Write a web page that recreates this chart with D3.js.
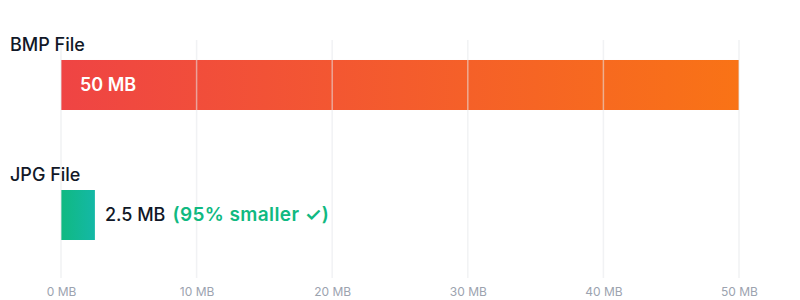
<!DOCTYPE html>
<html><head><meta charset="utf-8">
<script src="https://cdn.jsdelivr.net/npm/d3@7"></script>
<style>body{margin:0;background:#fff;}svg{display:block;font-family:Inter,"Noto Sans",sans-serif;}</style>
</head><body><svg id="c" width="800" height="300"></svg>
<script>
const categories = ["BMP File", "JPG File"];
const sizesMB = [50, 2.5];
const valueLabels = ["50 MB", "2.5 MB"];
const noteLabels = ["", "(95% smaller ✓)"];
const tickValues = [0, 10, 20, 30, 40, 50];
const tickLabels = ["0 MB", "10 MB", "20 MB", "30 MB", "40 MB", "50 MB"];

const svg = d3.select("#c");
const x = d3.scaleLinear().domain([0, 50]).range([61, 739]);
const y = d3.scaleBand().domain(categories).range([40, 260]).paddingInner(80/130).paddingOuter(0.1538);

const defs = svg.append("defs");
const g1 = defs.append("linearGradient").attr("id","gBmp").attr("x1","0%").attr("x2","100%");
g1.append("stop").attr("offset","0%").attr("stop-color","#ef4444");
g1.append("stop").attr("offset","100%").attr("stop-color","#f97316");
const g2 = defs.append("linearGradient").attr("id","gJpg").attr("x1","0%").attr("x2","100%");
g2.append("stop").attr("offset","0%").attr("stop-color","#10b981");
g2.append("stop").attr("offset","100%").attr("stop-color","#14b8a6");
const fills = ["url(#gBmp)", "url(#gJpg)"];

// bars
svg.selectAll("rect.bar").data(categories).join("rect").attr("class","bar")
  .attr("x", x(0)).attr("y", d => y(d))
  .attr("width", (d,i) => x(sizesMB[i]) - x(0))
  .attr("height", y.bandwidth())
  .attr("fill", (d,i) => fills[i]);

// grid lines on top
svg.selectAll("line.grid").data(tickValues).join("line").attr("class","grid")
  .attr("x1", d => x(d)).attr("x2", d => x(d))
  .attr("y1", 40).attr("y2", 278)
  .attr("stroke", "#e5e7eb").attr("stroke-opacity", 0.55).attr("stroke-width", 1.5);

// axis
const axis = d3.axisBottom(x).tickValues(tickValues).tickFormat((d,i) => tickLabels[i]).tickSize(0).tickPadding(0);
const ag = svg.append("g").attr("transform","translate(0,287)").call(axis);
ag.select(".domain").remove();
ag.selectAll("text").attr("fill","#9ca3af").attr("font-size",12).attr("font-family","Inter,'Noto Sans',sans-serif");

// category labels
svg.selectAll("text.cat").data(categories).join("text").attr("class","cat")
  .attr("x", 10).attr("y", d => y(d) - 9)
  .attr("font-size", 18).attr("font-weight", 500).attr("fill", "#111827")
  .text(d => d);

// value labels
svg.append("text").attr("x", x(0) + 19).attr("y", y(categories[0]) + y.bandwidth()/2)
  .attr("dy","0.35em").attr("font-size",18).attr("font-weight",600).attr("fill","#fff")
  .text(valueLabels[0]);

const t = svg.append("text").attr("x", x(sizesMB[1]) + 10).attr("y", y(categories[1]) + y.bandwidth()/2)
  .attr("dy","0.35em").attr("font-size",18);
t.append("tspan").attr("font-weight",500).attr("fill","#111827").text(valueLabels[1]);
t.append("tspan").attr("dx", 7).attr("font-weight",600).attr("fill","#10b981").attr("font-size",19).attr("letter-spacing",0.4).text(noteLabels[1]);
</script></body></html>
